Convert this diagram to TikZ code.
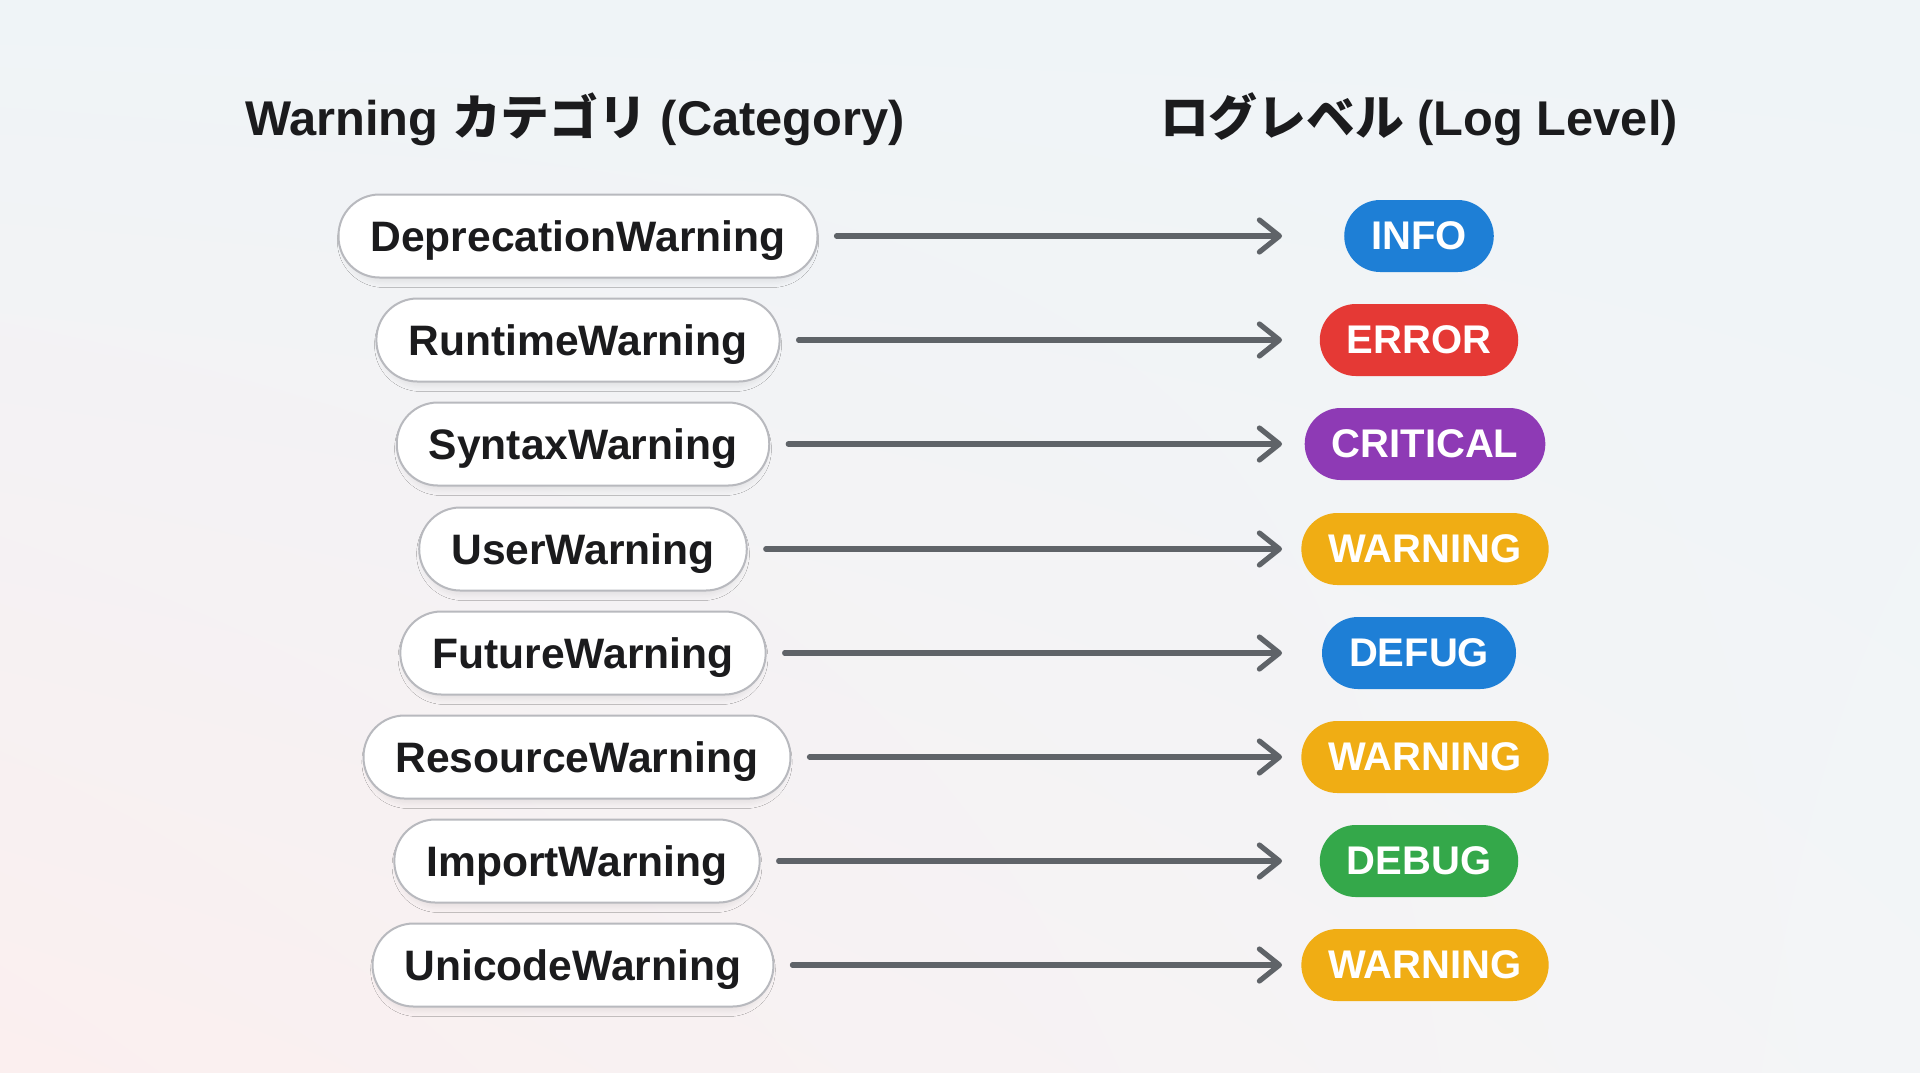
\documentclass[tikz,border=0pt]{standalone}
\usepackage{fontspec}
\setmainfont{Liberation Sans}
\newfontfamily\jpfont{Noto Sans CJK JP}
\usetikzlibrary{arrows.meta,shadows.blur,shadings}
\definecolor{headink}{HTML}{1B1B1D}
\definecolor{edgegray}{HTML}{B8B9BE}
\definecolor{arrowgray}{HTML}{5F6368}
\definecolor{infoblue}{HTML}{1E7FD6}
\definecolor{errorred}{HTML}{E53935}
\definecolor{critpurple}{HTML}{8E3AB5}
\definecolor{warnamber}{HTML}{F0AD14}
\definecolor{debuggreen}{HTML}{34A84A}
\definecolor{bgblue}{HTML}{EFF4F7}
\definecolor{bgpink}{HTML}{FBEFEF}
\definecolor{bgmid}{HTML}{F3F5F7}

\begin{document}
\begin{tikzpicture}[x=0.5pt,y=-0.5pt,
	title/.style={font=\bfseries\fontsize{24.4}{28}\selectfont, text=headink},
	cat/.style={draw=edgegray, line width=1pt, fill=white, rounded corners=20.5pt,
		minimum height=41.5pt, inner xsep=16pt, text=headink,
		text height=15.5pt, text depth=0pt,
		font=\bfseries\fontsize{21.3}{25}\selectfont,
		blur shadow={shadow xshift=0pt, shadow yshift=-2.5pt, shadow scale=0.98, shadow blur radius=3pt, shadow blur steps=8, shadow opacity=8}},
	lvl/.style={rounded corners=18pt, minimum height=36pt, inner xsep=13.5pt, text=white,
		font=\bfseries\fontsize{20}{24}\selectfont},
	link/.style={draw=arrowgray, line width=2.6pt, line cap=round, shorten <=9pt,
		-{Straight Barb[length=10pt,width=16pt,line cap=round,line join=round]}}]
\useasboundingbox (0,0) rectangle (1920,1072);
\shade[upper left=bgblue, upper right=bgblue, lower left=bgpink, lower right=bgmid] (0,0) rectangle (1920,1072);

\node[title] (tcat) at (575,119) {Warning {\jpfont\bfseries カテゴリ} (Category)};
\node[title] (tlvl) at (1419,119) {{\jpfont\bfseries ログレベル} (Log Level)};

\node[cat] (w1) at (578,236) {DeprecationWarning};
\node[cat] (w2) at (578,340) {RuntimeWarning};
\node[cat] (w3) at (583,444) {SyntaxWarning};
\node[cat] (w4) at (583,549) {UserWarning};
\node[cat] (w5) at (583,653) {FutureWarning};
\node[cat] (w6) at (577,757) {ResourceWarning};
\node[cat] (w7) at (577,861) {ImportWarning};
\node[cat] (w8) at (573,965) {UnicodeWarning};

\coordinate (e1) at (1282,236);
\coordinate (e2) at (1282,340);
\coordinate (e3) at (1282,444);
\coordinate (e4) at (1282,549);
\coordinate (e5) at (1282,653);
\coordinate (e6) at (1282,757);
\coordinate (e7) at (1282,861);
\coordinate (e8) at (1282,965);

\node[lvl, fill=infoblue] (l1) at (1419,236) {INFO};
\node[lvl, fill=errorred] (l2) at (1419,340) {ERROR};
\node[lvl, fill=critpurple] (l3) at (1425,444) {CRITICAL};
\node[lvl, fill=warnamber] (l4) at (1425,549) {WARNING};
\node[lvl, fill=infoblue] (l5) at (1419,653) {DEFUG};
\node[lvl, fill=warnamber] (l6) at (1425,757) {WARNING};
\node[lvl, fill=debuggreen] (l7) at (1419,861) {DEBUG};
\node[lvl, fill=warnamber] (l8) at (1425,965) {WARNING};

\draw[link] (w1) -- (e1);
\draw[link] (w2) -- (e2);
\draw[link] (w3) -- (e3);
\draw[link] (w4) -- (e4);
\draw[link] (w5) -- (e5);
\draw[link] (w6) -- (e6);
\draw[link] (w7) -- (e7);
\draw[link] (w8) -- (e8);
\end{tikzpicture}
\end{document}
